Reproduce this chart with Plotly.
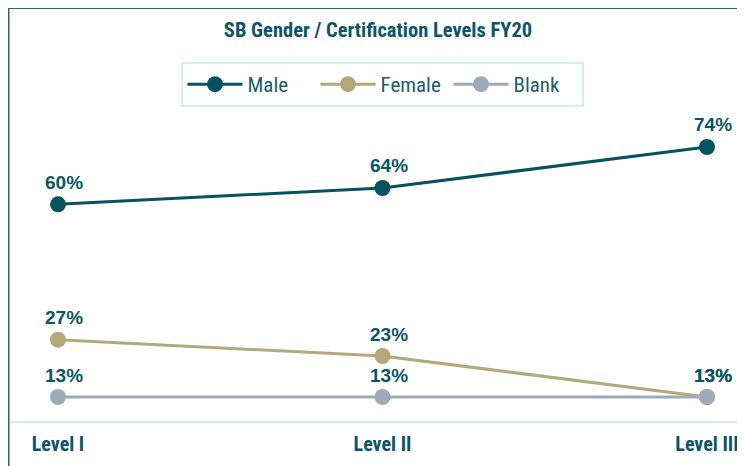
import plotly.graph_objects as go

categories = ["Level I", "Level II", "Level III"]
male = [60, 64, 74]
female = [27, 23, 13]
blank = [13, 13, 13]

series = [
    ("Male", male, "#06525f"),
    ("Female", female, "#b3a77c"),
    ("Blank", blank, "#9cabb7"),
]

TEXT = "#0b5565"
NARROW = "Liberation Sans Narrow, Arial Narrow, Roboto Condensed, sans-serif"
W, H = 745, 466
L, R, T, B = 2, 8, 100, 53
AXIS_Y = H - B
PX_PER_CAT = 324.5
PX_PER_PCT = 4.1
xpos = list(range(len(categories)))

fig = go.Figure()
annotations = []
for name, vals, col in series:
    fig.add_trace(go.Scatter(
        x=xpos, y=vals, name=name, mode="lines+markers",
        line=dict(color=col, width=3),
        marker=dict(color=col, size=16),
        hoverinfo="skip",
    ))
    for xi, v in zip(xpos, vals):
        annotations.append(dict(
            x=xi, y=v, xref="x", yref="y", text=f"{v}%", showarrow=False,
            yshift=22, xshift=6,
            font=dict(family="Liberation Sans, Arial, sans-serif", size=19, color=TEXT, weight="bold"),
        ))

pw = W - L - R
ph = H - T - B
fig.update_layout(
    width=W, height=H,
    margin=dict(l=L, r=R, t=T, b=B),
    paper_bgcolor="white", plot_bgcolor="white",
    title=dict(
        text="SB Gender / Certification Levels FY20",
        x=370 / W, xanchor="center", y=1 - 22 / H, yanchor="middle",
        font=dict(family=NARROW, size=20.5, color=TEXT, weight="bold"),
    ),
    legend=dict(
        orientation="h", x=(374 - L) / pw, xanchor="center",
        y=(AXIS_Y - 54) / ph, yanchor="top",
        bordercolor="#d3ecf8", borderwidth=2,
        font=dict(family=NARROW, size=21, color="#1a5d6b"),
        itemwidth=55, entrywidth=63, entrywidthmode="pixels",
    ),
    xaxis=dict(
        tickmode="array", tickvals=xpos, ticktext=categories,
        range=[-(50 - L) / PX_PER_CAT, 2 + (W - R - 699) / PX_PER_CAT],
        showgrid=False, zeroline=False,
        showline=True, linecolor="#d6eaf5", linewidth=2,
        ticks="outside", ticklen=4, tickcolor="rgba(0,0,0,0)",
        tickfont=dict(family=NARROW, size=20, color=TEXT, weight="bold"),
    ),
    yaxis=dict(
        range=[13 - (AXIS_Y - 389) / PX_PER_PCT, 74 + (139 - T) / PX_PER_PCT],
        showgrid=False, zeroline=False, showticklabels=False, showline=False,
    ),
    annotations=annotations,
    shapes=[dict(
        type="rect", xref="paper", yref="paper",
        x0=(0.5 - L) / pw, x1=1.2, y0=-0.5, y1=AXIS_Y / ph,
        line=dict(color="#1f6b78", width=2), fillcolor="rgba(0,0,0,0)", layer="above",
    )],
)

fig.write_html("out.html")
